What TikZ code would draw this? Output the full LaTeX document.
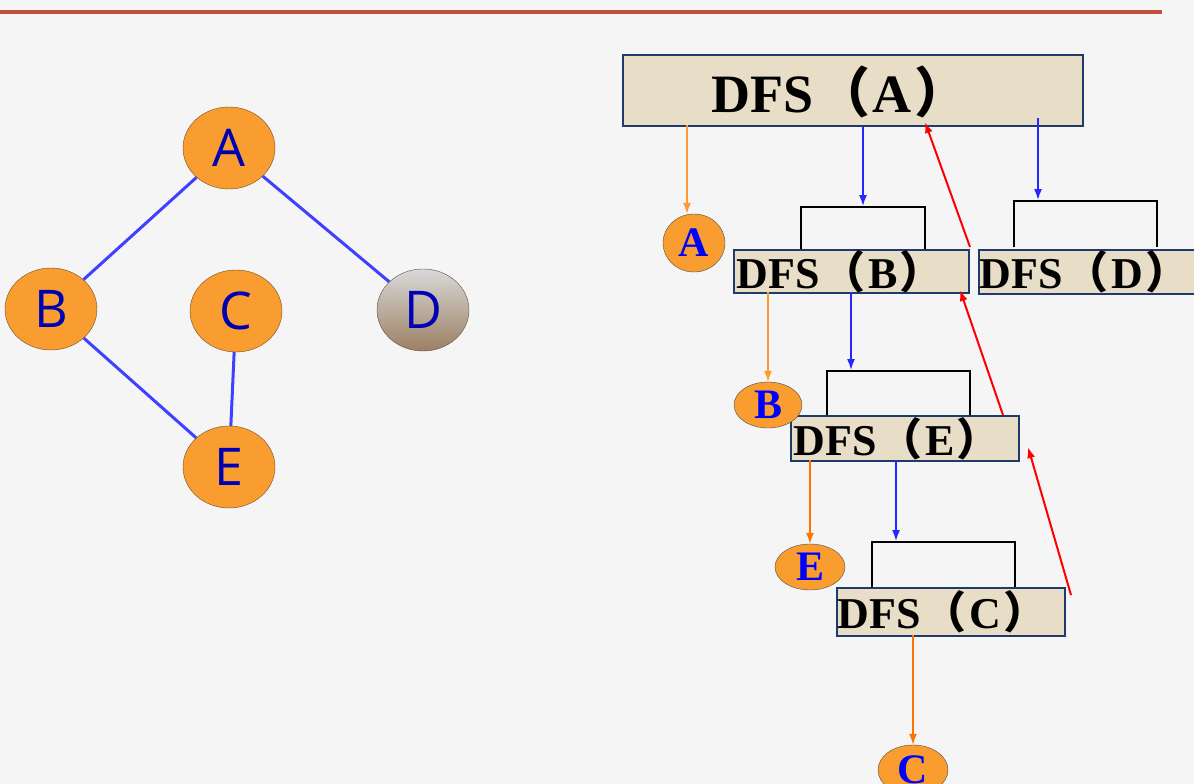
\documentclass[tikz,border=0pt]{standalone}
\usepackage{fontspec}
\setmainfont{Liberation Serif}
\newfontfamily\sns{Open Sans}
\newfontfamily\cjk{Noto Sans CJK SC}
\usetikzlibrary{arrows.meta,shapes.geometric}
\definecolor{org}{HTML}{F99D31}
\definecolor{bge}{HTML}{E8DDC6}
\definecolor{nvy}{HTML}{1F3A6B}
\newcommand{\dfs}[1]{DFS\kern0.05em{\cjk （}\kern0.05em#1\kern0.05em{\cjk ）}}
\begin{document}
\begin{tikzpicture}[x=1pt,y=-1pt,
 gn/.style={ellipse,draw=brown!60!black,fill=org,minimum width=92pt,minimum height=82pt,inner sep=0pt,font=\sns\fontsize{52}{52}\selectfont,text=blue!70!black},
 ge/.style={draw=blue!75,line width=3pt},
 box/.style={draw=nvy,line width=2pt,fill=bge,inner sep=0pt,anchor=north west},
 bt/.style={anchor=west,font=\bfseries\fontsize{44}{44}\selectfont},
 sc/.style={ellipse,draw=black!70,fill=org,inner sep=0pt,font=\bfseries\fontsize{42}{42}\selectfont,text=blue},
 br/.style={draw=black,line width=2pt},
 oa/.style={draw=orange!80,line width=1.5pt,-{Latex[length=11pt,width=8pt]}},
 ba/.style={draw=blue!85,line width=1.5pt,-{Latex[length=11pt,width=8pt]}},
 ra/.style={draw=red,line width=2pt,-{Latex[length=11pt,width=8pt]}}]
\useasboundingbox (0,0) rectangle (1194,784);
\fill[gray!8] (0,0) rectangle (1194,784);
\draw[line width=4pt,color={rgb,255:red,192;green,80;blue,60}] (0,12) -- (1162,12);
% graph
\node[gn] (A) at (229,148) {A};
\node[gn] (B) at (51,309) {B};
\node[gn] (C) at (236,311) {C};
\node[gn,draw=gray!70!black,top color=gray!30,bottom color=gray!55!brown] (D) at (423,310) {D};
\node[gn] (E) at (229,467) {E};
\draw[ge] (A) -- (B); \draw[ge] (A) -- (D); \draw[ge] (B) -- (E); \draw[ge] (C) -- (E);
% boxes
\node[box,minimum width=460pt,minimum height=71pt] (bA) at (622,54) {};
\node[font=\bfseries\fontsize{54}{54}\selectfont] (tA) at (840,92) {\dfs{A}};
\node[box,minimum width=235pt,minimum height=43pt] (bB) at (733,249) {};
\node[bt] (tB) at (733,272) {\dfs{B}};
\node[box,minimum width=230pt,minimum height=44pt] (bD) at (978,249) {};
\node[bt] (tD) at (976,272) {\dfs{D}};
\node[box,minimum width=228pt,minimum height=45pt] (bE) at (790,415) {};
\node[bt] (tE) at (790,439) {\dfs{E}};
\node[box,minimum width=228pt,minimum height=48pt] (bC) at (836,587) {};
\node[bt] (tC) at (834,612) {\dfs{C}};
% brackets
\draw[br] (801,249) -- (801,207) -- (925,207) -- (925,249);
\draw[br] (1014,247) -- (1014,201) -- (1157,201) -- (1157,247);
\draw[br] (827,415) -- (827,371) -- (970,371) -- (970,415);
\draw[br] (872,587) -- (872,542) -- (1015,542) -- (1015,587);
% circles
\node[sc,minimum width=62pt,minimum height=58pt] (cA) at (694,243) {A};
\node[sc,minimum width=68pt,minimum height=46pt] (cB) at (768,405) {B};
\node[sc,minimum width=70pt,minimum height=46pt] (cE) at (810,567) {E};
\node[sc,minimum width=70pt,minimum height=50pt] (cC) at (913,770) {C};
% arrows
\coordinate (o1) at (687,125); \draw[oa] (o1) -- (cA.north -| o1);
\coordinate (o2) at (768,292); \draw[oa] (o2) -- (cB.north);
\coordinate (o3) at (810,460); \draw[oa,draw=orange!90!red] (o3) -- (cE.north);
\coordinate (o4) at (913,635); \draw[oa,draw=orange!90!red] (o4) -- (cC.north);
\coordinate (b1s) at (863,127); \coordinate (b1e) at (863,206); \draw[ba] (b1s) -- (b1e);
\coordinate (b2s) at (1038,118); \coordinate (b2e) at (1038,200); \draw[ba] (b2s) -- (b2e);
\coordinate (b3s) at (851,292); \coordinate (b3e) at (851,370); \draw[ba] (b3s) -- (b3e);
\coordinate (b4s) at (896,460); \coordinate (b4e) at (896,541); \draw[ba] (b4s) -- (b4e);
\coordinate (r1s) at (970,247); \coordinate (r1e) at (925,122); \draw[ra] (r1s) -- (r1e);
\coordinate (r2s) at (1003,415); \coordinate (r2e) at (960,290); \draw[ra] (r2s) -- (r2e);
\coordinate (r3s) at (1071,595); \coordinate (r3e) at (1028,447); \draw[ra] (r3s) -- (r3e);
\end{tikzpicture}
\end{document}
